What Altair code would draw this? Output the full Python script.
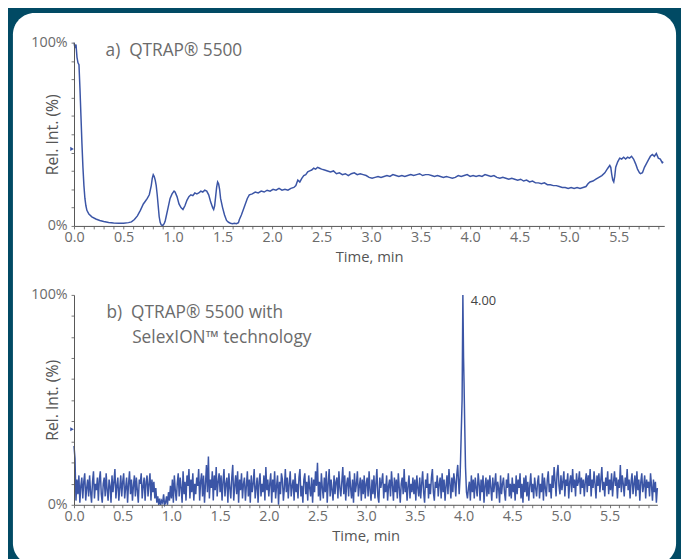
import altair as alt
import pandas as pd

# ---------------- data ----------------
# Panel a: QTRAP 5500 (time in min, relative intensity in %)
a_time = [0.00, 0.01, 0.02, 0.03, 0.04, 0.05, 0.06, 0.07, 0.08, 0.09, 0.10, 0.11, 0.12, 0.13, 0.15, 0.18,
          0.22, 0.26, 0.30, 0.35, 0.40, 0.45, 0.50, 0.55, 0.58, 0.61, 0.64, 0.67, 0.70, 0.72, 0.74, 0.76,
          0.78, 0.79, 0.80, 0.81, 0.82, 0.83, 0.84, 0.85, 0.86, 0.87, 0.88, 0.89, 0.90, 0.91, 0.92, 0.93,
          0.95, 0.97, 0.99, 1.01, 1.02, 1.04, 1.06, 1.08, 1.10, 1.12, 1.14, 1.16, 1.18, 1.20, 1.22, 1.24,
          1.26, 1.28, 1.30, 1.32, 1.34, 1.36, 1.38, 1.40, 1.41, 1.42, 1.43, 1.44, 1.45, 1.46, 1.47, 1.48,
          1.50, 1.52, 1.54, 1.56, 1.58, 1.60, 1.62, 1.64, 1.66, 1.67, 1.69, 1.71, 1.73, 1.75, 1.77, 1.80,
          1.83, 1.86, 1.89, 1.92, 1.95, 1.98, 2.01, 2.04, 2.07, 2.10, 2.13, 2.16, 2.19, 2.22, 2.24, 2.26,
          2.28, 2.30, 2.32, 2.34, 2.36, 2.38, 2.40, 2.42, 2.44, 2.46, 2.48, 2.50, 2.53, 2.56, 2.59, 2.62,
          2.65, 2.68, 2.71, 2.74, 2.77, 2.80, 2.83, 2.86, 2.89, 2.92, 2.95, 2.98, 3.01, 3.04, 3.07, 3.10,
          3.13, 3.16, 3.19, 3.22, 3.25, 3.28, 3.31, 3.34, 3.37, 3.40, 3.43, 3.46, 3.49, 3.52, 3.55, 3.58,
          3.61, 3.64, 3.67, 3.70, 3.73, 3.76, 3.79, 3.82, 3.85, 3.88, 3.91, 3.94, 3.97, 4.00, 4.03, 4.06,
          4.09, 4.12, 4.15, 4.18, 4.21, 4.24, 4.27, 4.30, 4.33, 4.36, 4.39, 4.42, 4.45, 4.48, 4.51, 4.54,
          4.57, 4.60, 4.63, 4.66, 4.69, 4.72, 4.75, 4.78, 4.81, 4.84, 4.87, 4.90, 4.93, 4.96, 4.99, 5.02,
          5.05, 5.08, 5.11, 5.14, 5.17, 5.19, 5.21, 5.24, 5.27, 5.30, 5.33, 5.36, 5.39, 5.41, 5.42, 5.43,
          5.44, 5.45, 5.46, 5.47, 5.49, 5.51, 5.53, 5.55, 5.57, 5.59, 5.61, 5.63, 5.65, 5.67, 5.69, 5.71,
          5.72, 5.74, 5.76, 5.78, 5.80, 5.82, 5.84, 5.86, 5.88, 5.90, 5.92, 5.94, 5.95]
a_int = [100, 97, 99, 92, 89, 88, 75, 60, 45, 32, 22, 15, 11, 8.5, 6.5, 5,
         3.8, 3, 2.4, 1.9, 1.6, 1.5, 1.5, 1.8, 2.2, 3.5, 5.5, 8.5, 12, 13.5, 15, 17,
         22, 26, 28, 27, 25, 22, 17, 11, 5, 2, 0.6, 0.3, 0.5, 1.2, 2.5, 5,
         10, 15, 17.5, 19, 18.5, 16, 12, 10, 9, 11, 14, 16, 17, 16.5, 18, 17.5,
         18, 19, 18.5, 19.5, 19, 17, 13, 10, 9, 11, 16, 21, 24, 23, 20, 15,
         10, 6, 3, 2, 1.5, 1.2, 1.5, 1.2, 1.8, 3.5, 6, 9, 12, 15, 17, 17.5,
         18.5, 18, 19, 18.5, 19.5, 19, 20, 19.5, 20.5, 19.5, 20, 19.5, 20.5, 21, 22, 25,
         24, 26, 27.5, 28, 29.5, 30, 30.5, 31.5, 31, 32, 31.5, 31, 30.5, 30, 29.5, 30,
         28.5, 29, 28, 28.5, 27.5, 28.5, 29, 28, 28.5, 28, 27.5, 26.5, 26, 26.5, 27, 26.5,
         27, 27.5, 27, 28, 27.5, 27, 27.5, 27, 27.5, 28, 27.5, 28, 28.5, 27.5, 28, 28,
         27.5, 27, 27.5, 27, 26.5, 27, 26.5, 26, 26.5, 27.5, 27, 27.5, 28, 27, 27.5, 27,
         27.5, 27, 28, 27.5, 27, 27.5, 26.5, 26, 26.5, 26, 25.5, 26, 25.5, 25, 25.5, 24.5,
         25, 24, 24.5, 23.5, 23.5, 23, 23.5, 22.5, 22.5, 22, 22, 21.5, 21, 21, 20.5, 21,
         20.5, 21, 20.5, 21, 21.5, 23, 24, 24.5, 25.5, 26.5, 27.5, 29, 31.5, 33, 32, 28,
         25, 24, 27, 32, 35, 37, 36.5, 37.5, 36.5, 37.5, 37, 38, 36.5, 34, 31, 29,
         28.5, 29, 32, 34, 36, 38, 39, 38, 39.5, 37, 36.5, 34.5, 35]

# Panel b: QTRAP 5500 with SelexION technology (one reading every 0.01 min)
b_step = 0.01
b_noise = [
    28, 22, 2, 12, 5, 14, 1, 9, 13, 3, 11, 15, 2, 8, 12, 4, 14, 6, 1, 11, 16, 3, 10, 7, 13,
    2, 12, 16, 5, 1, 10, 13, 4, 15, 7, 2, 12, 9, 1, 14, 6, 11, 17, 3, 9, 13, 2, 8, 14, 4,
    11, 15, 3, 8, 13, 1, 10, 16, 5, 12, 2, 9, 14, 4, 13, 7, 1, 12, 10, 15, 3, 9, 13, 2, 11,
    14, 4, 10, 15, 2, 12, 6, 11, 3, 8, 1, 4, 0, 3, 0, 2, 1, 5, 0, 1, 4, 0, 6, 2, 9,
    3, 12, 1, 14, 7, 2, 10, 15, 4, 13, 8, 1, 16, 5, 11, 2, 14, 9, 17, 3, 12, 6, 15, 2, 10,
    5, 13, 9, 17, 2, 11, 15, 4, 14, 1, 10, 19, 6, 23, 3, 12, 8, 16, 2, 14, 7, 18, 4, 11, 15,
    6, 14, 2, 11, 17, 4, 10, 13, 1, 15, 8, 3, 13, 19, 2, 9, 14, 5, 16, 1, 12, 7, 15, 3, 10,
    13, 2, 9, 16, 4, 12, 1, 14, 6, 10, 17, 3, 8, 13, 1, 11, 15, 4, 10, 6, 14, 2, 18, 7, 12,
    4, 10, 15, 1, 12, 6, 16, 3, 9, 14, 0, 11, 5, 15, 12, 2, 8, 17, 6, 13, 3, 10, 16, 4, 9,
    12, 2, 15, 6, 10, 3, 13, 17, 4, 9, 1, 12, 15, 5, 11, 2, 14, 8, 4, 13, 1, 12, 6, 16, 9,
    20, 4, 11, 2, 15, 8, 3, 13, 6, 16, 1, 10, 17, 4, 12, 7, 2, 14, 5, 11, 13, 3, 16, 8, 4,
    11, 18, 5, 14, 2, 10, 13, 4, 16, 8, 3, 12, 1, 15, 6, 10, 16, 4, 9, 13, 2, 12, 5, 14, 3,
    10, 13, 4, 16, 7, 2, 12, 5, 14, 3, 10, 17, 4, 1, 13, 8, 11, 15, 3, 10, 6, 14, 2, 9, 12,
    4, 16, 9, 2, 13, 6, 12, 3, 15, 8, 1, 10, 13, 5, 17, 6, 11, 2, 9, 14, 3, 10, 6, 13, 5,
    12, 2, 14, 8, 4, 13, 3, 10, 16, 6, 1, 12, 8, 15, 3, 10, 5, 13, 17, 6, 2, 11, 8, 14, 4,
    10, 13, 3, 15, 6, 12, 2, 9, 14, 5, 17, 10, 3, 13, 6, 15, 11, 4, 14, 19, 5, 6, 4, 7, 5,
    6, 5, 7, 4, 6, 3, 11, 2, 14, 6, 12, 3, 13, 8, 4, 15, 10, 2, 12, 6, 14, 1, 9, 13, 4,
    12, 5, 14, 8, 2, 13, 6, 10, 15, 3, 11, 8, 1, 14, 5, 10, 13, 6, 2, 12, 8, 15, 4, 10, 3,
    13, 6, 10, 2, 14, 5, 12, 8, 15, 3, 10, 1, 13, 6, 14, 4, 11, 2, 9, 15, 6, 10, 3, 13, 8,
    4, 11, 14, 3, 10, 6, 15, 2, 13, 8, 4, 12, 16, 6, 10, 3, 14, 8, 18, 11, 4, 15, 19, 9, 5,
    14, 7, 11, 16, 4, 12, 9, 15, 3, 11, 14, 6, 17, 8, 12, 4, 15, 9, 11, 16, 5, 13, 8, 12, 4,
    11, 15, 6, 14, 9, 17, 4, 12, 8, 16, 10, 3, 14, 9, 15, 6, 12, 18, 7, 11, 4, 13, 9, 16, 5,
    12, 7, 15, 4, 11, 16, 9, 13, 3, 12, 8, 19, 6, 14, 10, 4, 13, 9, 17, 7, 12, 3, 11, 15, 5,
    10, 14, 4, 16, 7, 12, 2, 11, 15, 6, 9, 14, 3, 12, 8, 11, 4, 15, 9, 2, 12, 6, 11, 1, 8]
b_peak_time = [3.955, 3.965, 3.975, 3.985, 3.993, 4.000, 4.005, 4.012, 4.020, 4.030, 4.040, 4.050]
b_peak_int = [5, 14, 32, 50, 100, 70, 58, 38, 18, 6, 3, 8]
peak_label = ["4.00"]
peak_label_time = [3.993]
peak_label_int = [100]

# small triangle markers on the y axes
marker_a = [42]
marker_b = [36]

title_a = ["a)\u00a0\u00a0QTRAP\u00ae 5500"]
title_b = ["b)\u00a0\u00a0QTRAP\u00ae 5500 with", "SelexION\u2122 technology"]
x_title = "Time, min"
y_title = "Rel. Int. (%)"

# ---------------- styling ----------------
BLUE = "#3b55a6"
TEAL = "#014a64"
GREY = "#6b6b6b"
FONT = "Open Sans"

df_a = pd.DataFrame({"t": a_time, "v": a_int})
bt = [round(i * b_step, 3) for i in range(len(b_noise))]
df_b = pd.DataFrame({"t": bt, "v": b_noise})
df_b = df_b[(df_b.t < 3.95) | (df_b.t > 4.05)]
df_b = pd.concat([df_b, pd.DataFrame({"t": b_peak_time, "v": b_peak_int})]).sort_values("t")


def x_enc(maxt):
    vals = [round(i * 0.1, 1) for i in range(int(round(maxt * 10)) + 1) if round(i * 0.1, 1) <= maxt]
    axis = alt.Axis(values=vals, title=x_title,
                    labelExpr="(round(datum.value*10) % 5 == 0) ? format(datum.value, '.1f') : ''",
                    labelOverlap=False, labelFlush=False, tickSize=3, labelPadding=2,
                    labelFontSize=14.5, labelColor=GREY, titleFontSize=15, titleColor="#555555",
                    titleFontWeight="normal", titlePadding=6, domainColor="#555555",
                    tickColor="#777777", grid=False, zindex=1, labelFont=FONT, titleFont=FONT)
    return alt.X("t:Q", scale=alt.Scale(domain=[0, maxt], nice=False, zero=False), axis=axis)


def y_enc(h):
    axis = alt.Axis(values=list(range(0, 101, 10)), title=y_title,
                    labelExpr="datum.value == 0 ? '0%' : (datum.value == 100 ? '100%' : '')",
                    labelOverlap=False, labelFlush=False, tickSize=3, labelPadding=4,
                    labelFontSize=14.5, labelColor=GREY, titleFontSize=16, titleColor="#555555",
                    titleFontWeight="normal", titleX=-22, titleY=h / 2, titleAngle=270,
                    titleAlign="center", titleBaseline="middle", domainColor="#555555",
                    tickColor="#777777", grid=False, zindex=1, labelFont=FONT, titleFont=FONT)
    return alt.Y("v:Q", scale=alt.Scale(domain=[0, 100], nice=False), axis=axis)


WA, HA = 599, 186
WB, HB = 592, 213
XMAX_A, XMAX_B = 5.96, 5.99
XA, YA = x_enc(XMAX_A), y_enc(HA)
XB, YB = x_enc(XMAX_B), y_enc(HB)

one = alt.Data(values=[{}])

panel_bg = alt.Chart(one).mark_rect(fill="white", cornerRadius=22).encode(
    x=alt.value(-62), x2=alt.value(611), y=alt.value(-30), y2=alt.value(530))

line_a = alt.Chart(df_a).mark_line(color=BLUE, strokeWidth=1.5).encode(x=XA, y=YA)

mark_a = alt.Chart(pd.DataFrame({"v": marker_a})).mark_point(
    shape="triangle-right", filled=True, size=18, color=BLUE, opacity=1).encode(
    x=alt.value(-2), y=YA)

text_a = alt.Chart(pd.DataFrame({"s": title_a})).mark_text(
    align="left", baseline="alphabetic", fontSize=17.5, color=GREY, font=FONT).encode(
    x=alt.value(32), y=alt.value(14), text="s:N")

top = alt.layer(panel_bg, line_a, mark_a, text_a).properties(width=WA, height=HA)

line_b = alt.Chart(df_b).mark_line(color=BLUE, strokeWidth=1.5).encode(x=XB, y=YB)

mark_b = alt.Chart(pd.DataFrame({"v": marker_b})).mark_point(
    shape="triangle-right", filled=True, size=18, color=BLUE, opacity=1).encode(
    x=alt.value(-2), y=YB)

text_b1 = alt.Chart(pd.DataFrame({"s": title_b[:1]})).mark_text(
    align="left", baseline="alphabetic", fontSize=17.5, color=GREY, font=FONT).encode(
    x=alt.value(33), y=alt.value(23), text="s:N")
text_b2 = alt.Chart(pd.DataFrame({"s": title_b[1:]})).mark_text(
    align="left", baseline="alphabetic", fontSize=17.5, color=GREY, font=FONT).encode(
    x=alt.value(59), y=alt.value(49), text="s:N")

lbl_b = alt.Chart(pd.DataFrame({"t": peak_label_time, "v": peak_label_int, "s": peak_label})).mark_text(
    align="left", baseline="middle", dx=8, dy=6, fontSize=13, color="#444444", font=FONT).encode(
    x=XB, y=YB, text="s:N")

bottom = alt.layer(line_b, mark_b, text_b1, text_b2, lbl_b).properties(width=WB, height=HB)

chart = alt.vconcat(top, bottom, spacing=70, bounds="flush").resolve_scale(
    x="independent", y="independent"
).properties(
    background=TEAL,
    padding={"left": 4, "top": 0, "right": 4, "bottom": 0},
).configure_view(stroke="transparent")

chart.save("out.html", embed_options={"renderer": "svg", "actions": False})
